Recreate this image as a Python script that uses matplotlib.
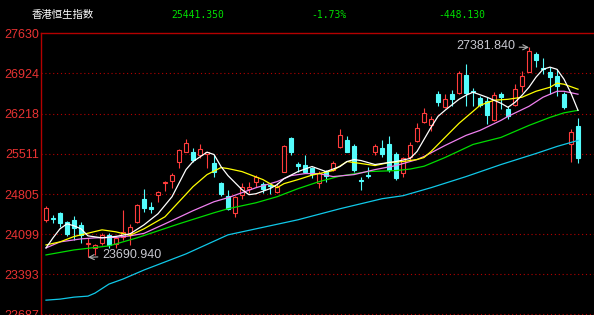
import matplotlib
matplotlib.use('Agg')
import matplotlib.pyplot as plt
from matplotlib.patches import Rectangle

# ---------------- data ----------------
opens = [24352, 24378, 24475, 24316, 24352, 24263, 23919, 23857, 23945, 24087,
         23928, 24051, 24122, 24316, 24722, 24572, 24793, 25005, 25040, 25376,
         25552, 25552, 25482, 25510, 25358, 25005, 24775, 24475, 24793, 24899,
         25022, 24987, 24969, 24846, 25199, 25782, 25341, 25323, 25270, 25005,
         25217, 25234, 25632, 25747, 25649, 25058, 25146, 25535, 25605, 25676,
         25517, 25181, 25464, 25729, 26064, 26011, 26559, 26329, 26559, 26576,
         26894, 26620, 26488, 26435, 26100, 26559, 26294, 26364, 26700, 26947,
         27265, 27026, 26947, 26876, 26559, 25676, 25994]
highs = [24598, 24440, 24493, 24334, 24422, 24316, 24034, 23928, 24122, 24122,
         24069, 24528, 24281, 24634, 24899, 24669, 24863, 25040, 25181, 25588,
         25764, 25605, 25676, 25552, 25499, 25022, 24881, 24775, 25005, 25022,
         25146, 25022, 24987, 25005, 25658, 25800, 25376, 25482, 25288, 25217,
         25234, 25393, 25941, 25817, 25676, 25111, 25288, 25676, 25747, 25817,
         25535, 25464, 25711, 26047, 26311, 26170, 26611, 26559, 26629, 26965,
         27088, 26665, 26523, 26506, 26594, 26594, 26347, 26735, 26965, 27381.84,
         27300, 27194, 27035, 26997, 26594, 25941, 26135]
lows = [24316, 24299, 24228, 24069, 23998, 23945, 23690.94, 23734, 23910, 23857,
        23857, 23998, 23910, 24299, 24493, 24475, 24669, 24863, 24916, 25270,
        25535, 25376, 25446, 25270, 25111, 24775, 24528, 24405, 24722, 24828,
        24934, 24828, 24810, 24828, 25199, 25482, 25199, 25181, 25093, 24916,
        25022, 25217, 25605, 25535, 25199, 24881, 25093, 25499, 25464, 25199,
        25058, 25111, 25411, 25711, 26047, 25905, 26347, 26311, 26347, 26559,
        26347, 26347, 26329, 26029, 26082, 26294, 26117, 26347, 26594, 26947,
        27035, 26912, 26559, 26523, 26294, 25376, 25358]
closes = [24563, 24360, 24299, 24104, 24210, 24087, 23937, 23910, 24087, 23910,
          24034, 24140, 24228, 24616, 24563, 24546, 24846, 25022, 25146, 25570,
          25693, 25411, 25588, 25535, 25199, 24810, 24546, 24757, 24934, 24934,
          25111, 24899, 24943, 24934, 25641, 25535, 25305, 25199, 25164, 25181,
          25128, 25358, 25844, 25552, 25226, 25040, 25128, 25641, 25517, 25234,
          25093, 25446, 25658, 25958, 26223, 26117, 26417, 26470, 26470, 26929,
          26576, 26603, 26364, 26188, 26541, 26506, 26170, 26647, 26876, 27318,
          27159, 27009, 26859, 26700, 26329, 25889.48, 25441.35]

# moving-average lines, read at the candle indices listed
ma5_idx = [0, 1, 2, 3, 4, 5, 6, 8, 10, 12, 14, 16, 18, 20, 21, 23, 24, 25, 26, 28,
           29, 30, 32, 33, 34, 36, 38, 40, 42, 43, 44, 45, 47, 50, 52, 53, 54, 55, 56, 57,
           59, 60, 61, 63, 64, 65, 66, 67, 68, 69, 70, 71, 72, 73, 74, 75, 76]
ma5_val = [23857, 24034, 24193, 24281, 24246, 24193, 24069, 24034, 24060, 24104,
           24263, 24458, 24757, 25234, 25376, 25540, 25499, 25288, 25128, 24881,
           24793, 24810, 24899, 24969, 25075, 25199, 25288, 25199, 25288, 25376,
           25411, 25393, 25323, 25376, 25429, 25552, 25764, 25976, 26170, 26276,
           26470, 26541, 26594, 26506, 26453, 26400, 26329, 26417, 26541, 26682,
           26859, 26997, 27035, 26997, 26823, 26576, 26276]
ma10_idx = [0, 2, 4, 8, 10, 12, 14, 17, 19, 21, 23, 25, 26, 28, 31, 33, 34, 36, 38, 41,
            43, 45, 47, 49, 51, 53, 54, 55, 57, 59, 61, 62, 64, 66, 68, 70, 72, 73, 74, 76]
ma10_val = [23910, 23963, 24057, 24175, 24140, 24078, 24193, 24405, 24669, 24934,
            25146, 25270, 25252, 25199, 25058, 24916, 24987, 25058, 25137, 25217,
            25376, 25341, 25305, 25358, 25376, 25411, 25446, 25552, 25800, 26047,
            26258, 26364, 26453, 26470, 26506, 26611, 26682, 26753, 26735, 26647]
ma20_idx = [0, 2, 5, 7, 10, 12, 14, 17, 21, 24, 26, 28, 30, 33, 35, 37, 39, 41, 44, 47,
            50, 53, 54, 57, 60, 62, 65, 66, 69, 71, 73, 74, 76]
ma20_val = [23857, 23963, 24016, 24034, 24043, 24069, 24113, 24281, 24511, 24669,
            24740, 24828, 24916, 25022, 25128, 25164, 25164, 25111, 25146, 25234,
            25305, 25411, 25464, 25658, 25835, 25923, 26100, 26170, 26347, 26506,
            26611, 26611, 26559]
ma30_idx = [0, 4, 9, 13, 19, 24, 26, 28, 30, 33, 36, 39, 42, 46, 50, 52, 54, 57, 61, 65,
            69, 72, 74, 76]
ma30_val = [23734, 23822, 23893, 24034, 24281, 24475, 24546, 24598, 24651, 24757,
            24899, 25022, 25120, 25199, 25217, 25243, 25293, 25446, 25676, 25800,
            26011, 26152, 26232, 26276]
ma60_idx = [0, 2, 4, 6, 7, 9, 11, 14, 20, 26, 30, 36, 42, 48, 51, 55, 60, 65, 70, 73, 76]
ma60_val = [22939, 22957, 22992, 23010, 23063, 23222, 23310, 23469, 23752, 24087,
            24193, 24352, 24546, 24722, 24775, 24916, 25111, 25323, 25517, 25641, 25747]

tick_vals = [27630, 26924, 26218, 25511, 24805, 24099, 23393, 22687]
tick_labels = ['27630', '26924', '26218', '25511', '24805', '24099', '23393', '22687']

title = '香港恒生指数'
last_price = '25441.350'
pct_change = '-1.73%'
abs_change = '-448.130'
high_label = '27381.840'
low_label = '23690.940'
high_idx = 69
low_idx = 6

# ---------------- style ----------------
UP = '#ff3c3c'
DOWN = '#54fcfc'
GRID = '#b40000'
AXIS_TXT = '#e83232'

W, H = 594, 315
fig = plt.figure(figsize=(W / 100, H / 100), dpi=100, facecolor='black')
top_px = 33.3
ax = fig.add_axes([41 / W, 0, (W - 41) / W, (H - top_px) / H])
ax.set_facecolor('black')
ax.set_xlim(-5 / 7, 548 / 7)
ax.set_ylim(22678, 27630)

# grid
for v in tick_vals[1:]:
    ax.axhline(v, color=GRID, lw=0.8, ls=(0, (1, 2.5)), zorder=1)

# candles
bw = 0.6
for i, (o, h, l, c) in enumerate(zip(opens, highs, lows, closes)):
    up = c >= o
    col = UP if up else DOWN
    ax.vlines(i, l, h, color=col, lw=0.8, zorder=2)
    ax.add_patch(Rectangle((i - bw / 2, min(o, c)), bw, abs(c - o),
                           facecolor='black' if up else DOWN,
                           edgecolor=col, lw=0.8, zorder=3))

# moving averages
ax.plot(ma60_idx, ma60_val, color='#10c8e8', lw=0.9, zorder=4)
ax.plot(ma30_idx, ma30_val, color='#00dc00', lw=0.9, zorder=4)
ax.plot(ma20_idx, ma20_val, color='#f080f0', lw=0.9, zorder=4)
ax.plot(ma10_idx, ma10_val, color='#ffff00', lw=0.9, zorder=4)
ax.plot(ma5_idx, ma5_val, color='#ffffff', lw=0.9, zorder=5)

# high / low annotations
ax.annotate(high_label, xy=(high_idx, highs[high_idx]), xytext=(-14, 1),
            textcoords='offset pixels', ha='right', va='center',
            color='#c8c8d0', fontsize=9, family='Liberation Sans',
            arrowprops=dict(arrowstyle='->', color='#b0b0b0', lw=0.8,
                            shrinkA=1, shrinkB=0), zorder=6)
ax.annotate(low_label, xy=(low_idx, lows[low_idx]), xytext=(14, 2),
            textcoords='offset pixels', ha='left', va='center',
            color='#c8c8d0', fontsize=9, family='Liberation Sans',
            arrowprops=dict(arrowstyle='->', color='#b0b0b0', lw=0.8,
                            shrinkA=1, shrinkB=0), zorder=6)

# axes styling
for s in ('right', 'bottom'):
    ax.spines[s].set_visible(False)
for s in ('top', 'left'):
    ax.spines[s].set_color(GRID)
    ax.spines[s].set_linewidth(1.0)
ax.set_xticks([])
ax.set_yticks(tick_vals)
ax.set_yticklabels(tick_labels, color=AXIS_TXT, fontsize=9, family='Liberation Sans')
ax.tick_params(axis='y', length=0, pad=1.5)

# header
ty = 1 - 15 / H
fig.text(31.7 / W, ty, title, color='white', fontsize=7.5,
         family=['Noto Sans CJK SC', 'DejaVu Sans'], va='center', ha='left')
fig.text(171 / W, ty, last_price, color='#00e000', fontsize=7,
         family='DejaVu Sans Mono', va='center', ha='left')
fig.text(311 / W, ty, pct_change, color='#00e000', fontsize=7,
         family='DejaVu Sans Mono', va='center', ha='left')
fig.text(438 / W, ty, abs_change, color='#00e000', fontsize=7,
         family='DejaVu Sans Mono', va='center', ha='left')

fig.savefig('out.png', dpi=100, facecolor='black')
